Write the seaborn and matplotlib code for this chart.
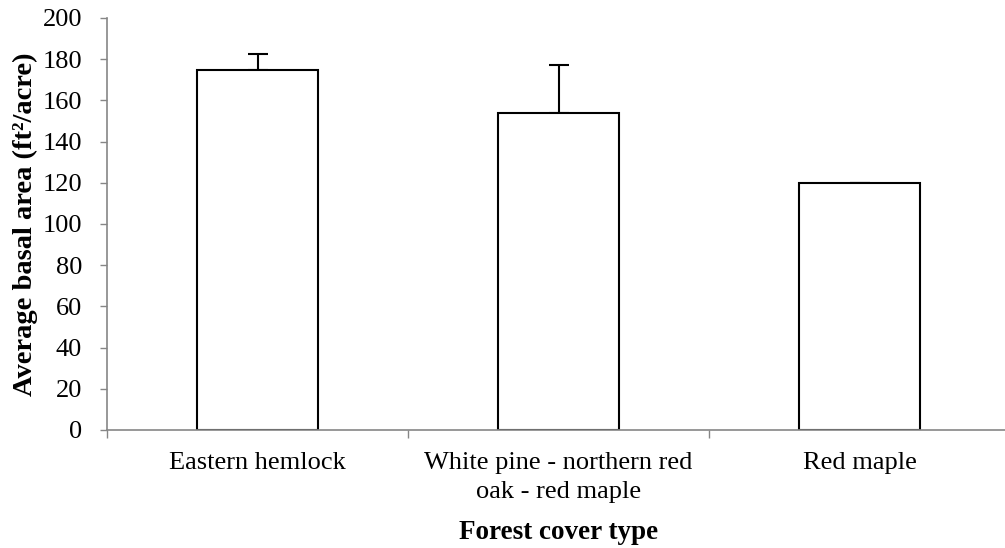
import matplotlib
matplotlib.use("Agg")
import matplotlib.pyplot as plt
import seaborn as sns
import pandas as pd

categories = ["Eastern hemlock", "White pine - northern red\noak - red maple", "Red maple"]
values = [175, 154, 120]
errors_up = [7.5, 23, 0]
y_ticks = [0, 20, 40, 60, 80, 100, 120, 140, 160, 180, 200]

sns.set_theme(style="white")
plt.rcParams['font.family'] = ['Liberation Serif', 'DejaVu Serif']
plt.rcParams['text.color'] = 'black'
plt.rcParams['axes.labelcolor'] = 'black'
plt.rcParams['xtick.color'] = 'black'
plt.rcParams['ytick.color'] = 'black'

df = pd.DataFrame({"cat": categories, "val": values})

fig = plt.figure(figsize=(10.05, 5.48), dpi=100)
ax = fig.add_axes([107/1005, (548-430)/548, (1010-107)/1005, (430-18)/548])

sns.barplot(data=df, x="cat", y="val", ax=ax, color="white", edgecolor="black",
            linewidth=1.5, width=0.4, errorbar=None, zorder=2)
for p in ax.patches:
    p.set_facecolor("white")

ax.errorbar(range(len(categories)), values, yerr=[[0]*len(values), errors_up],
            fmt="none", ecolor="black", elinewidth=1.5, capsize=7, capthick=1.5, zorder=1)

ax.set_xlim(-0.5, 2.5)
ax.set_ylim(0, 200)
ax.set_yticks(y_ticks)
ax.set_yticklabels([str(t) for t in y_ticks], fontsize=19, color="black")
ax.set_xticks(range(len(categories)))
ax.set_xticklabels(categories, fontsize=19, linespacing=1.4, color="black")
ax.tick_params(axis="x", length=0, pad=16)
ax.tick_params(axis="y", left=True, length=5, width=1, color="#868686", pad=13)

# category boundary ticks
ax.set_xticks([-0.5, 0.5, 1.5, 2.5], minor=True)
ax.tick_params(axis="x", which="minor", bottom=True, length=6, width=1, color="#868686")

for s in ["top", "right"]:
    ax.spines[s].set_visible(False)
for s in ["left", "bottom"]:
    ax.spines[s].set_color("#868686")
    ax.spines[s].set_linewidth(1.2)

ax.set_xlabel("Forest cover type", fontsize=19.5, fontweight="bold", labelpad=12, color="black")
ax.set_ylabel("Average basal area (ft²/acre)", fontsize=20.5, fontweight="bold", color="black")
ax.yaxis.set_label_coords((38 - 107) / 903, 0.5)

fig.savefig("out.png", dpi=100)
